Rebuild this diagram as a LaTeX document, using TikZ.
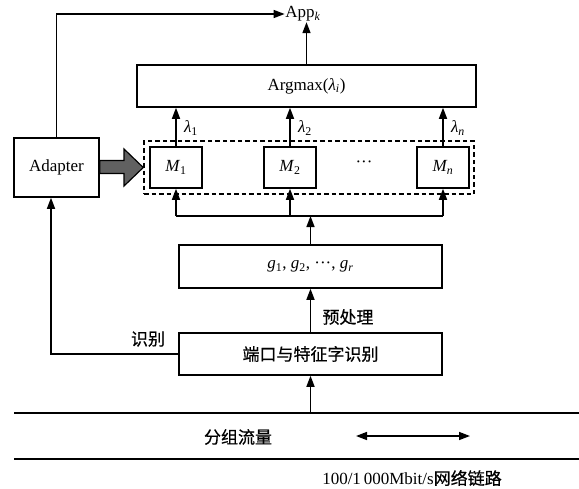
\documentclass[tikz,border=0pt]{standalone}
\usepackage{fontspec}
\setmainfont{Liberation Serif}
\newfontfamily\cjk[FakeBold=0.6]{Noto Sans CJK SC}
\usetikzlibrary{arrows.meta,calc}
\begin{document}
\begin{tikzpicture}[x=1pt,y=-1pt,line width=1.5pt,
  >={Triangle[length=11pt,width=8pt]},
  txt/.style={font=\fontsize{17}{20}\selectfont,inner sep=0pt},
  cn/.style={font=\cjk\fontsize{17}{20}\selectfont,inner sep=0pt},
  box/.style={draw,inner sep=0pt,font=\fontsize{17}{20}\selectfont,minimum width=#1},
  dbox/.style={draw,dashed,dash pattern=on 4.5pt off 3pt,inner sep=0pt}]
\useasboundingbox (0,0) rectangle (579,488);
% boxes
\node[box=339pt,minimum height=42pt] (argmax) at (306.5,86) {Argmax(\textit{λ\textsubscript{i}})};
\node[box=85pt,minimum height=59pt] (adapter) at (56.5,167.5) {Adapter};
\node[dbox,minimum width=330pt,minimum height=53pt] (group) at (309,167.5) {};
\node[box=52pt,minimum height=41pt] (m1) at (176,167.5) {\textit{M}\textsubscript{1}};
\node[box=52pt,minimum height=41pt] (m2) at (290,167.5) {\textit{M}\textsubscript{2}};
\node[box=52pt,minimum height=41pt] (mn) at (443,167.5) {\textit{M\textsubscript{n}}};
\node[txt] (dots) at (364,164) {···};
\node[box=263pt,minimum height=43pt] (g) at (310.5,266.5) {\textit{g}\textsubscript{1}, \textit{g}\textsubscript{2}, ···, \textit{g\textsubscript{r}}};
\node[box=263pt,minimum height=42pt,font=\cjk\fontsize{17}{20}\selectfont] (port) at (310.5,354) {端口与特征字识别};
\node[txt] (app) at (303,14) {App\textsubscript{\textit{k}}};
% labels
\node[txt] (l1) at (191,128) {\textit{λ}\textsubscript{1}};
\node[txt] (l2) at (305,128) {\textit{λ}\textsubscript{2}};
\node[txt] (ln) at (458,128) {\textit{λ\textsubscript{n}}};
\node[cn] (pre) at (348,317) {预处理};
\node[cn] (shibie) at (148,339) {识别};
\node[cn] (flow) at (238,437) {分组流量};
\node[font=\fontsize{17}{20}\selectfont,inner sep=0pt] (link) at (412,478) {100/1\,000Mbit/s{\cjk 网络链路}};
% coordinates
\coordinate (bus) at (310.5,216);
\coordinate (c1) at (51,354);
\coordinate (n1) at (14,413);
\coordinate (n2) at (579,413);
\coordinate (n3) at (14,459);
\coordinate (n4) at (579,459);
\coordinate (d1) at (356,436);
\coordinate (d2) at (470,436);
% connectors
\draw[->] (adapter.north) |- (app.west);
\draw[->] (argmax.north) -- (argmax.north |- app.south);
\draw[->] (m1.north) -- (m1.north |- argmax.south);
\draw[->] (m2.north) -- (m2.north |- argmax.south);
\draw[->] (mn.north) -- (mn.north |- argmax.south);
\draw (m1.south |- bus) -- (mn.south |- bus);
\draw[->] (m1.south |- bus) -- (m1.south);
\draw[->] (m2.south |- bus) -- (m2.south);
\draw[->] (mn.south |- bus) -- (mn.south);
\draw[->] (g.north) -- (bus);
\draw[->] (port.north) -- (g.south);
\draw[->] (port.west) -- (c1) -- (c1 |- adapter.south);
\draw (n1) -- (n2);
\draw (n3) -- (n4);
\draw[->] (port.south |- n1) -- (port.south);
\draw[<->] (d1) -- (d2);
% fat arrow
\draw[fill=black!62,line width=1.2pt] (adapter.east |- 0,160.5) -- (124,160.5) -- (124,149) -- (group.west) -- (124,186) -- (124,173.5) -- (adapter.east |- 0,173.5) -- cycle;
\end{tikzpicture}
\end{document}
